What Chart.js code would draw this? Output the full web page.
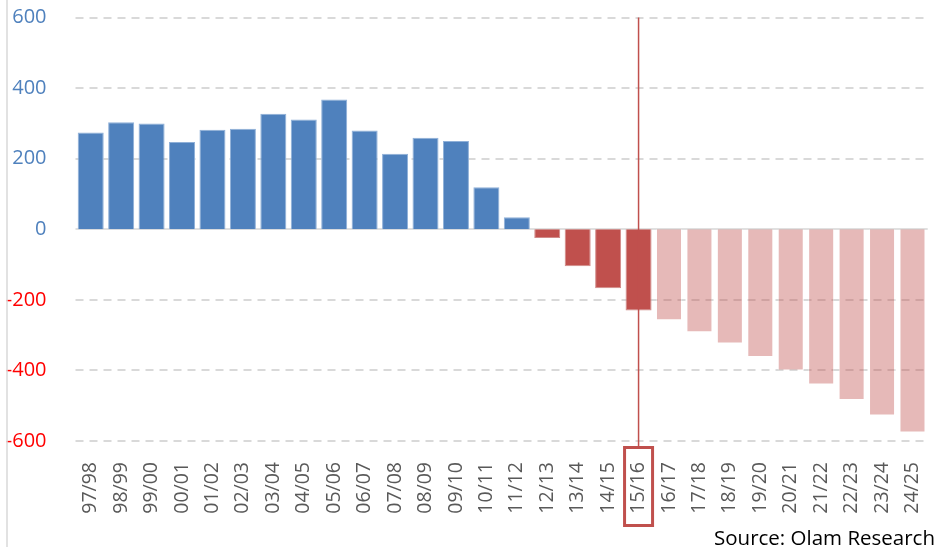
<!DOCTYPE html>
<html><head><meta charset="utf-8">
<script src="https://cdn.jsdelivr.net/npm/chart.js@4/dist/chart.umd.min.js"></script>
<style>
html,body{margin:0;padding:0;background:#fff;}
#wrap{position:relative;width:937px;height:547px;overflow:hidden;}
#c{display:block;}
#source{position:absolute;right:2px;bottom:0px;font-family:'Open Sans',sans-serif;font-size:20.5px;color:#000;line-height:1;white-space:nowrap;}
</style></head><body>
<div id="wrap"><canvas id="c" width="937" height="547" style="width:937px;height:547px"></canvas><div id="source">Source: Olam Research</div></div>
<script>
const seasons = ['97/98','98/99','99/00','00/01','01/02','02/03','03/04','04/05','05/06','06/07','07/08','08/09','09/10','10/11','11/12','12/13','13/14','14/15','15/16','16/17','17/18','18/19','19/20','20/21','21/22','22/23','23/24','24/25'];
const balance = [274, 303, 300, 247, 282, 285, 327, 311, 368, 280, 214, 259, 250, 119, 34, -25, -105, -167, -230, -258, -292, -324, -362, -400, -440, -484, -528, -576];
const yTicks = [-600, -400, -200, 0, 200, 400, 600];
const currentSeason = '15/16';

const BLUE = '#4F81BD', DARKRED = '#C0504D', PINK = 'rgba(192,80,77,0.4)';
const currentIdx = seasons.indexOf(currentSeason);

const decor = {
  id: 'decor',
  beforeDatasetsDraw(chart) {
    const ctx = chart.ctx, y = chart.scales.y, a = chart.chartArea;
    ctx.save();
    ctx.strokeStyle = '#d9d9d9'; ctx.lineWidth = 1.5; ctx.setLineDash([]);
    ctx.beginPath(); ctx.moveTo(7, 0); ctx.lineTo(7, 547); ctx.stroke();
    y.ticks.forEach(t => {
      const py = Math.round(y.getPixelForValue(t.value));
      ctx.lineWidth = 2;
      ctx.strokeStyle = t.value === 0 ? '#e0e0e0' : '#d9d9d9';
      ctx.setLineDash(t.value === 0 ? [] : [8, 6]);
      ctx.beginPath(); ctx.moveTo(a.left, py); ctx.lineTo(a.right, py); ctx.stroke();
    });
    ctx.restore();
  },
  afterDatasetsDraw(chart) {
    const ctx = chart.ctx, x = chart.scales.x, y = chart.scales.y;
    const cx = x.getPixelForValue(currentIdx);
    ctx.save();
    ctx.strokeStyle = DARKRED; ctx.lineWidth = 1.5; ctx.setLineDash([]);
    ctx.beginPath(); ctx.moveTo(cx, y.getPixelForValue(600)); ctx.lineTo(cx, 446); ctx.stroke();
    ctx.lineWidth = 3;
    ctx.strokeRect(cx - 14, 447.5, 28, 78);
    ctx.restore();
  }
};

new Chart(document.getElementById('c'), {
  type: 'bar',
  data: {
    labels: seasons,
    datasets: [{
      data: balance,
      backgroundColor: c => c.dataIndex > currentIdx ? PINK : (c.raw < 0 ? DARKRED : BLUE),
      borderColor: c => c.dataIndex > currentIdx ? 'rgba(255,255,255,0.3)' : (c.raw < 0 ? '#d08a88' : '#8fb0d8'),
      borderWidth: 1,
      categoryPercentage: 1,
      barPercentage: 0.855
    }]
  },
  options: {
    responsive: false,
    animation: false,
    layout: { padding: { top: 17.5, right: 9.3, bottom: 0, left: 0 } },
    plugins: { legend: { display: false }, tooltip: { enabled: false } },
    scales: {
      x: {
        grid: { display: false },
        border: { display: false },
        ticks: {
          autoSkip: false, minRotation: 90, maxRotation: 90, padding: 13,
          color: '#595959', font: { family: 'Open Sans', size: 19.5 }
        },
        afterFit: s => { s.height = 106; s.paddingLeft = 0; s.paddingRight = 0; }
      },
      y: {
        min: -600, max: 600,
        grid: { display: false },
        border: { display: false },
        afterBuildTicks: s => { s.ticks = yTicks.map(v => ({ value: v })); },
        ticks: {
          padding: 21,
          color: c => c.tick && c.tick.value < 0 ? '#FF0000' : BLUE,
          font: { family: 'Open Sans', size: 20 }
        },
        afterFit: s => { s.width = 75.5; s.paddingTop = 0; s.paddingBottom = 0; }
      }
    }
  },
  plugins: [decor]
});
</script>
</body></html>
